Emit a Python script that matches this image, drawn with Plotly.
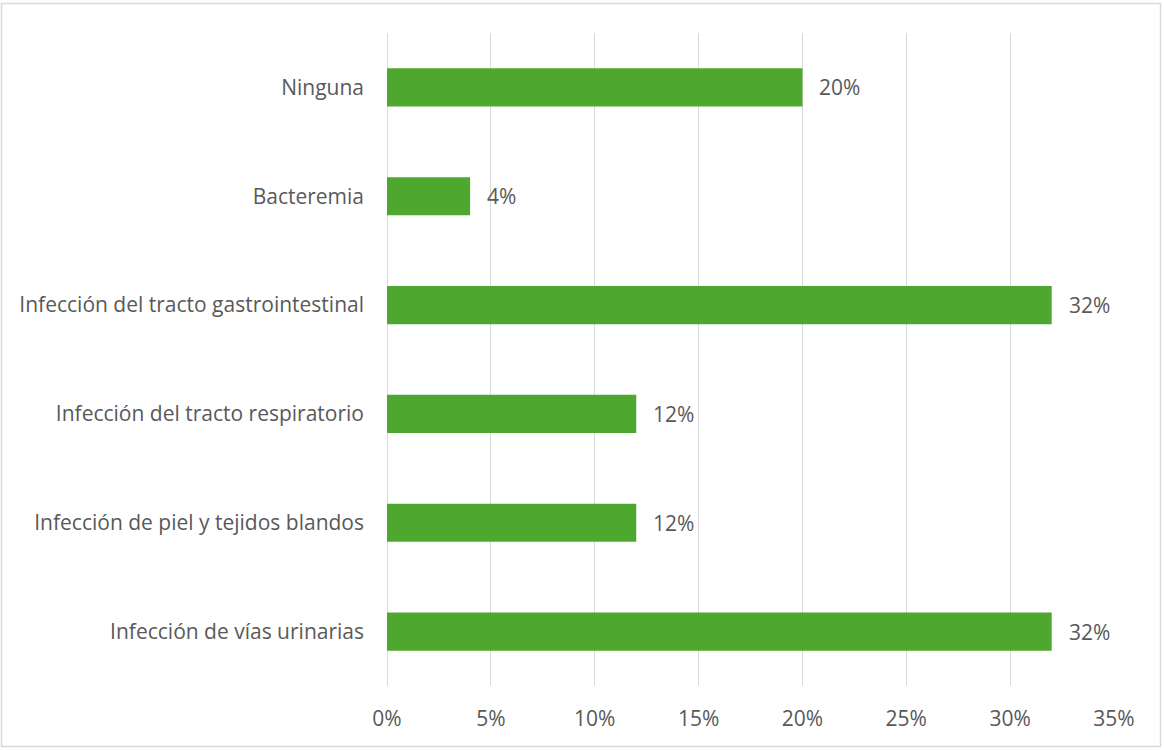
import plotly.graph_objects as go

# Complicaciones infecciosas (porcentaje de pacientes)
categorias = [
    "Ninguna",
    "Bacteremia",
    "Infección del tracto gastrointestinal",
    "Infección del tracto respiratorio",
    "Infección de piel y tejidos blandos",
    "Infección de vías urinarias",
]
porcentajes = [20, 4, 32, 12, 12, 32]
ticks_x = [0, 5, 10, 15, 20, 25, 30, 35]
etiquetas_x = [f"{t}%" for t in ticks_x]

VERDE = "#4EA72E"
GRIS_TEXTO = "#595959"
GRIS_REJILLA = "#D9D9D9"
FUENTE = "Open Sans"
TAM = 21

W, H = 1164, 750
ML, MR, MT, MB = 387, 50, 33, 64

fig = go.Figure(
    go.Bar(
        x=porcentajes,
        y=categorias,
        orientation="h",
        marker=dict(color=VERDE, line=dict(width=0)),
        hoverinfo="skip",
    )
)

# Etiquetas de datos a la derecha de cada barra
for cat, val in zip(categorias, porcentajes):
    fig.add_annotation(
        x=val, y=cat, text=f"{val}%", showarrow=False,
        xanchor="left", xshift=15,
        font=dict(family=FUENTE, size=TAM, color=GRIS_TEXTO),
    )

# Borde exterior del gráfico
pw = W - ML - MR
ph = H - MT - MB
fig.add_shape(
    type="rect", xref="paper", yref="paper",
    x0=(1.5 - ML) / pw, x1=(W - 3.5 - ML) / pw,
    y0=-(MB - 3.5) / ph,
    y1=1 + (MT - 3.5) / ph,
    line=dict(color="#D9D9D9", width=1.5),
    fillcolor="rgba(0,0,0,0)",
)

fig.update_layout(
    width=W, height=H,
    margin=dict(l=ML, r=MR, t=MT, b=MB),
    paper_bgcolor="white", plot_bgcolor="white",
    bargap=0.65,
    showlegend=False,
    font=dict(family=FUENTE, size=TAM, color=GRIS_TEXTO),
    xaxis=dict(
        range=[0, 35], tickvals=ticks_x, ticktext=etiquetas_x,
        showgrid=True, gridcolor=GRIS_REJILLA, gridwidth=1.3,
        zeroline=True, zerolinecolor=GRIS_REJILLA, zerolinewidth=1.3,
        showline=False, ticks="", ticklabelstandoff=18,
        tickfont=dict(family=FUENTE, size=TAM, color=GRIS_TEXTO),
        fixedrange=True,
    ),
    yaxis=dict(
        autorange="reversed", showgrid=False, zeroline=False,
        showline=False, ticks="", ticklabelstandoff=22,
        tickfont=dict(family=FUENTE, size=TAM, color=GRIS_TEXTO),
        fixedrange=True,
    ),
)

fig.write_html("out.html")
